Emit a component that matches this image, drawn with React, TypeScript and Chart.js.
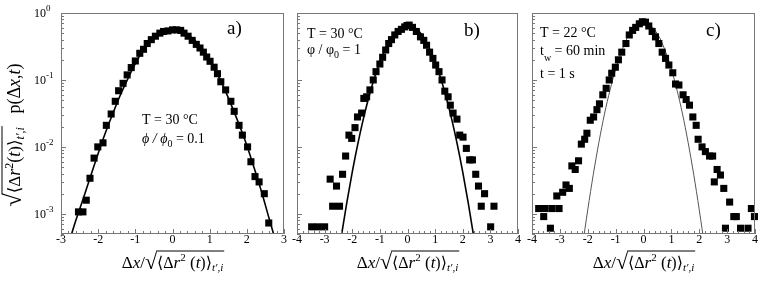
import React, { useEffect, useRef } from 'react';
import { Chart, registerables } from 'chart.js';
Chart.register(...registerables);

const FONT = '"Liberation Serif", "Times New Roman", "DejaVu Serif", serif';

// ---- Panel a: T = 30 °C, phi/phi0 = 0.1 ----
const aPtsX = [-2.53, -2.41, -2.32, -2.22, -2.11, -2.01, -1.87, -1.78, -1.65, -1.54, -1.45, -1.33, -1.22, -1.11, -1.0, -0.88, -0.78, -0.68, -0.57, -0.46, -0.34, -0.24, -0.12, 0.0, 0.11, 0.22, 0.31, 0.42, 0.53, 0.64, 0.74, 0.83, 0.92, 1.01, 1.12, 1.21, 1.3, 1.43, 1.57, 1.66, 1.79, 1.88, 2.02, 2.11, 2.22, 2.33, 2.47, 2.59];
const aPtsY = [1.07e-3, 1.07e-3, 1.6e-3, 3.4e-3, 6.8e-3, 1.0e-2, 1.15e-2, 2.1e-2, 3.1e-2, 4.8e-2, 6.9e-2, 8.9e-2, 0.119, 0.153, 0.192, 0.25, 0.287, 0.35, 0.40, 0.45, 0.50, 0.53, 0.54, 0.56, 0.56, 0.55, 0.50, 0.45, 0.39, 0.34, 0.30, 0.26, 0.22, 0.19, 0.155, 0.124, 0.094, 0.071, 0.048, 0.034, 0.021, 0.015, 0.010, 6.0e-3, 3.6e-3, 3.0e-3, 2.0e-3, 7.3e-4];
const aFitX = [-2.8, -2.6, -2.4, -2.2, -2.0, -1.8, -1.6, -1.4, -1.2, -1.0, -0.8, -0.6, -0.4, -0.2, 0, 0.2, 0.4, 0.6, 0.8, 1.0, 1.2, 1.4, 1.6, 1.8, 2.0, 2.2, 2.4, 2.6, 2.8];
const aFitY = [3.5e-4, 8.0e-4, 1.7e-3, 3.7e-3, 8.0e-3, 1.65e-2, 3.2e-2, 6.0e-2, 0.105, 0.175, 0.27, 0.37, 0.46, 0.53, 0.56, 0.55, 0.48, 0.39, 0.29, 0.20, 0.125, 0.073, 0.040, 0.021, 0.0105, 4.8e-3, 2.1e-3, 8.5e-4, 3.5e-4];

// ---- Panel b: T = 30 °C, phi/phi0 = 1 ----
const bPtsX = [-3.47, -3.24, -3.0, -2.8, -2.71, -2.57, -2.46, -2.35, -2.24, -2.12, -2.02, -1.9, -1.81, -1.66, -1.58, -1.48, -1.36, -1.24, -1.14, -1.0, -0.9, -0.79, -0.68, -0.58, -0.46, -0.34, -0.22, -0.1, -0.02, 0.06, 0.18, 0.32, 0.47, 0.59, 0.69, 0.8, 0.92, 1.02, 1.14, 1.25, 1.35, 1.47, 1.55, 1.65, 1.79, 1.89, 2.01, 2.13, 2.25, 2.35, 2.47, 2.57, 2.67, 2.79, 3.01, 3.13];
const bPtsY = [6.4e-4, 6.4e-4, 6.4e-4, 3.3e-3, 1.3e-3, 2.6e-3, 1.3e-3, 3.9e-3, 7.3e-3, 0.015, 0.0134, 0.0194, 0.028, 0.032, 0.053, 0.056, 0.071, 0.10, 0.133, 0.173, 0.218, 0.28, 0.35, 0.40, 0.47, 0.53, 0.57, 0.62, 0.65, 0.66, 0.61, 0.53, 0.44, 0.39, 0.33, 0.26, 0.21, 0.167, 0.133, 0.10, 0.068, 0.056, 0.042, 0.032, 0.026, 0.015, 0.014, 0.0095, 6.4e-3, 6.4e-3, 3.9e-3, 2.6e-3, 1.3e-3, 2.0e-3, 6.4e-4, 1.3e-3];
const bFitX = [-2.6, -2.4, -2.2, -2.0, -1.8, -1.6, -1.4, -1.2, -1.0, -0.8, -0.6, -0.4, -0.2, 0, 0.2, 0.4, 0.6, 0.8, 1.0, 1.2, 1.4, 1.6, 1.8, 2.0, 2.2, 2.4, 2.6];
const bFitY = [1.3e-4, 4.5e-4, 1.45e-3, 4.2e-3, 0.011, 0.026, 0.055, 0.107, 0.186, 0.29, 0.42, 0.54, 0.63, 0.66, 0.63, 0.54, 0.42, 0.29, 0.186, 0.107, 0.055, 0.026, 0.011, 4.2e-3, 1.45e-3, 4.5e-4, 1.3e-4];

// ---- Panel c: T = 22 °C, tw = 60 min, t = 1 s ----
const cPtsX = [-3.76, -3.53, -3.28, -3.03, -3.58, -3.34, -3.11, -2.9, -2.78, -2.66, -2.57, -2.45, -2.33, -2.23, -2.11, -2.03, -1.91, -1.79, -1.67, -1.58, -1.46, -1.34, -1.23, -1.14, -1.01, -0.9, -0.78, -0.63, -0.51, -0.39, -0.28, -0.15, -0.04, 0.07, 0.19, 0.31, 0.43, 0.55, 0.67, 0.79, 0.91, 1.05, 1.15, 1.27, 1.42, 1.53, 1.65, 1.77, 1.89, 1.96, 2.1, 2.22, 2.37, 2.48, 2.54, 2.64, 2.76, 2.88, 2.94, 3.09, 3.24, 3.33, 3.48, 3.75, 3.87, 3.98];
const cPtsY = [1.2e-3, 1.2e-3, 1.2e-3, 1.2e-3, 9.1e-4, 6.1e-4, 1.85e-3, 2.1e-3, 2.7e-3, 2.4e-3, 5.2e-3, 4.6e-3, 6.2e-3, 0.011, 0.013, 0.016, 0.025, 0.028, 0.036, 0.044, 0.060, 0.075, 0.10, 0.126, 0.155, 0.20, 0.26, 0.35, 0.47, 0.55, 0.61, 0.69, 0.74, 0.73, 0.64, 0.53, 0.44, 0.35, 0.26, 0.21, 0.167, 0.128, 0.087, 0.084, 0.060, 0.051, 0.042, 0.028, 0.021, 0.013, 0.010, 8.5e-3, 7.3e-3, 7.3e-3, 3.0e-3, 4.6e-3, 3.8e-3, 2.4e-3, 6.1e-4, 1.5e-3, 9.1e-4, 9.1e-4, 6.1e-4, 6.1e-4, 1.2e-3, 9.1e-4];
const cFitX = [-2.4, -2.2, -2.0, -1.8, -1.6, -1.4, -1.2, -1.0, -0.8, -0.6, -0.4, -0.2, 0, 0.2, 0.4, 0.6, 0.8, 1.0, 1.2, 1.4, 1.6, 1.8, 2.0, 2.2, 2.4];
const cFitY = [6.8e-5, 3.0e-4, 1.15e-3, 3.9e-3, 0.0117, 0.031, 0.071, 0.145, 0.258, 0.41, 0.56, 0.68, 0.72, 0.68, 0.56, 0.41, 0.258, 0.145, 0.071, 0.031, 0.0117, 3.9e-3, 1.15e-3, 3.0e-4, 6.8e-5];

// axis ticks
const aXTicks = [-3, -2, -1, 0, 1, 2, 3];
const bcXTicks = [-4, -3, -2, -1, 0, 1, 2, 3, 4];
const yTickExp = [0, -1, -2, -3];
const Y_MIN = 5e-4;
const Y_MAX = 1;

type Seg = { t: string; s: number; dy?: number; it?: boolean; ol?: boolean };

function fontOf(g: Seg) {
  return `${g.it ? 'italic ' : ''}${g.s}px ${FONT}`;
}

function drawRich(ctx: CanvasRenderingContext2D, x: number, y: number, segs: Seg[], align: 'left' | 'center' | 'right', olOff = 15) {
  ctx.save();
  ctx.textBaseline = 'alphabetic';
  ctx.textAlign = 'left';
  const ws = segs.map((g) => {
    ctx.font = fontOf(g);
    return ctx.measureText(g.t).width;
  });
  const total = ws.reduce((a, b) => a + b, 0);
  let cx = align === 'center' ? x - total / 2 : align === 'right' ? x - total : x;
  let olStart: number | null = null;
  let olEnd = 0;
  segs.forEach((g, i) => {
    ctx.font = fontOf(g);
    ctx.fillText(g.t, cx, y + (g.dy || 0));
    if (g.ol) {
      if (olStart === null) olStart = cx;
      olEnd = cx + ws[i];
    }
    cx += ws[i];
  });
  if (olStart !== null) {
    ctx.strokeStyle = '#000';
    ctx.lineWidth = 1;
    ctx.beginPath();
    ctx.moveTo(olStart - 1, y - olOff);
    ctx.lineTo(olEnd + 1, y - olOff);
    ctx.stroke();
  }
  ctx.restore();
}

const xTitle: Seg[] = [
  { t: 'Δ', s: 17 },
  { t: 'x', s: 17, it: true },
  { t: '/', s: 17 },
  { t: '√', s: 22, dy: 1 },
  { t: '⟨Δ', s: 16, ol: true },
  { t: 'r', s: 17, it: true, ol: true },
  { t: '2', s: 11, dy: -7, ol: true },
  { t: ' (', s: 17, ol: true },
  { t: 't', s: 17, it: true, ol: true },
  { t: ')⟩', s: 16, ol: true },
  { t: 't′,i', s: 11, it: true, dy: 3, ol: true },
];

const yTitle: Seg[] = [
  { t: '√', s: 24, dy: 1 },
  { t: '⟨Δ', s: 17, ol: true },
  { t: 'r', s: 18, it: true, ol: true },
  { t: '2', s: 12, dy: -7, ol: true },
  { t: '(', s: 18, ol: true },
  { t: 't', s: 18, it: true, ol: true },
  { t: ')⟩', s: 17, ol: true },
  { t: 't′,i', s: 12, it: true, dy: 4, ol: true },
  { t: '   p(Δ', s: 18 },
  { t: 'x', s: 18, it: true },
  { t: ',', s: 18 },
  { t: 't', s: 18, it: true },
  { t: ')', s: 18 },
];

type Note = { x: number; y: number; segs: Seg[] };

type PanelCfg = {
  left: number;
  width: number;
  yWidth: number;
  padRight: number;
  xmin: number;
  xmax: number;
  xTicks: number[];
  yLabels: boolean;
  ptsX: number[];
  ptsY: number[];
  fitX: number[];
  fitY: number[];
  fitColor: string;
  fitWidth: number;
  notes: Note[];
};

const panels: PanelCfg[] = [
  {
    left: 0, width: 295, yWidth: 61, padRight: 11, xmin: -3, xmax: 3, xTicks: aXTicks, yLabels: true,
    ptsX: aPtsX, ptsY: aPtsY, fitX: aFitX, fitY: aFitY, fitColor: '#000', fitWidth: 1.6,
    notes: [
      { x: 227, y: 34, segs: [{ t: 'a)', s: 19 }] },
      { x: 142, y: 124, segs: [{ t: 'T = 30 °C', s: 14 }] },
      { x: 142, y: 143, segs: [{ t: 'ϕ / ϕ', s: 14, it: true }, { t: '0', s: 10, dy: 4 }, { t: ' = 0.1', s: 14 }] },
    ],
  },
  {
    left: 290, width: 233, yWidth: 7, padRight: 4, xmin: -4, xmax: 4, xTicks: bcXTicks, yLabels: false,
    ptsX: bPtsX, ptsY: bPtsY, fitX: bFitX, fitY: bFitY, fitColor: '#000', fitWidth: 1.6,
    notes: [
      { x: 174, y: 36, segs: [{ t: 'b)', s: 19 }] },
      { x: 17, y: 38, segs: [{ t: 'T = 30 °C', s: 14 }] },
      { x: 17, y: 54, segs: [{ t: 'φ / φ', s: 14 }, { t: '0', s: 10, dy: 4 }, { t: ' = 1', s: 14 }] },
    ],
  },
  {
    left: 523, width: 240, yWidth: 9, padRight: 8, xmin: -4, xmax: 4, xTicks: bcXTicks, yLabels: false,
    ptsX: cPtsX, ptsY: cPtsY, fitX: cFitX, fitY: cFitY, fitColor: '#555', fitWidth: 1,
    notes: [
      { x: 183, y: 36, segs: [{ t: 'c)', s: 19 }] },
      { x: 17, y: 37, segs: [{ t: 'T = 22 °C', s: 14 }] },
      { x: 17, y: 55, segs: [{ t: 't', s: 14 }, { t: 'w', s: 10, dy: 6 }, { t: ' = 60 min', s: 14 }] },
      { x: 17, y: 78, segs: [{ t: 't = 1 s', s: 14 }] },
    ],
  },
];

function decorPlugin(cfg: PanelCfg) {
  return {
    id: 'decor',
    afterDraw(chart: any) {
      const ctx: CanvasRenderingContext2D = chart.ctx;
      const { left, right, top, bottom } = chart.chartArea;
      const xs = chart.scales.x;
      const ys = chart.scales.y;
      ctx.save();
      // frame
      ctx.strokeStyle = '#777';
      ctx.lineWidth = 1;
      ctx.strokeRect(left + 0.5, top + 0.5, right - left - 1, bottom - top - 1);
      // x ticks
      ctx.beginPath();
      for (let i = Math.round(cfg.xmin * 5); i <= Math.round(cfg.xmax * 5); i++) {
        const v = i / 5;
        const px = Math.round(xs.getPixelForValue(v)) + 0.5;
        const major = i % 5 === 0;
        ctx.moveTo(px, bottom);
        ctx.lineTo(px, bottom - (major ? 5 : 3));
      }
      // y ticks
      for (let e = -4; e <= 0; e++) {
        for (let k = 1; k <= 9; k++) {
          const v = k * Math.pow(10, e);
          if (v < Y_MIN - 1e-12 || v > Y_MAX + 1e-12) continue;
          const py = Math.round(ys.getPixelForValue(v)) + 0.5;
          ctx.moveTo(left, py);
          ctx.lineTo(left + (k === 1 ? 5 : 3), py);
        }
      }
      ctx.stroke();
      ctx.fillStyle = '#000';
      // x tick labels
      ctx.font = `12px ${FONT}`;
      ctx.textAlign = 'center';
      ctx.textBaseline = 'alphabetic';
      cfg.xTicks.forEach((v) => {
        ctx.fillText(String(v), xs.getPixelForValue(v), 243);
      });
      // y tick labels
      if (cfg.yLabels) {
        yTickExp.forEach((e) => {
          const py = ys.getPixelForValue(Math.pow(10, e));
          drawRich(ctx, 34, py + 4, [{ t: '10', s: 12 }, { t: String(e), s: 9, dy: -6 }], 'left');
        });
        ctx.save();
        ctx.translate(20, 135);
        ctx.rotate(-Math.PI / 2);
        drawRich(ctx, 0, 0, yTitle, 'center', 18);
        ctx.restore();
      }
      // x title
      drawRich(ctx, (left + right) / 2, 268, xTitle, 'center', 17);
      // notes
      cfg.notes.forEach((n) => drawRich(ctx, n.x, n.y, n.segs, 'left'));
      ctx.restore();
    },
  };
}

function Panel({ cfg }: { cfg: PanelCfg }) {
  const ref = useRef<HTMLCanvasElement>(null);
  useEffect(() => {
    const canvas = ref.current!;
    const pts = cfg.ptsX.map((x, i) => ({ x, y: cfg.ptsY[i] }));
    const fit = cfg.fitX.map((x, i) => ({ x, y: cfg.fitY[i] }));
    const chart = new Chart(canvas, {
      type: 'scatter',
      data: {
        datasets: [
          {
            data: pts,
            pointStyle: 'rect',
            pointRadius: 5,
            pointBackgroundColor: '#000',
            pointBorderWidth: 0,
            backgroundColor: '#000',
            borderWidth: 0,
            showLine: false,
            clip: 6,
            order: 1,
          } as any,
          {
            data: fit,
            showLine: true,
            pointRadius: 0,
            borderColor: cfg.fitColor,
            borderWidth: cfg.fitWidth,
            cubicInterpolationMode: 'monotone',
            clip: 0,
            order: 2,
          } as any,
        ],
      },
      options: {
        responsive: false,
        animation: false,
        devicePixelRatio: 1,
        events: [],
        layout: { padding: { left: 0, right: cfg.padRight, top: 13, bottom: 0 } },
        plugins: { legend: { display: false }, tooltip: { enabled: false } },
        scales: {
          x: {
            type: 'linear',
            min: cfg.xmin,
            max: cfg.xmax,
            ticks: { display: false },
            grid: { display: false },
            border: { display: false },
            afterFit: (s: any) => { s.height = 51; },
          },
          y: {
            type: 'logarithmic',
            min: Y_MIN,
            max: Y_MAX,
            ticks: { display: false },
            grid: { display: false },
            border: { display: false },
            afterFit: (s: any) => { s.width = cfg.yWidth; },
          },
        },
      } as any,
      plugins: [decorPlugin(cfg)],
    });
    return () => chart.destroy();
  }, [cfg]);
  return (
    <canvas
      ref={ref}
      width={cfg.width}
      height={285}
      style={{ position: 'absolute', left: cfg.left, top: 0, width: cfg.width, height: 285 }}
    />
  );
}

export default function App() {
  return (
    <div style={{ position: 'absolute', left: 0, top: 0, width: 763, height: 285, background: '#fff', overflow: 'hidden' }}>
      {panels.map((p, i) => (
        <Panel key={i} cfg={p} />
      ))}
    </div>
  );
}
